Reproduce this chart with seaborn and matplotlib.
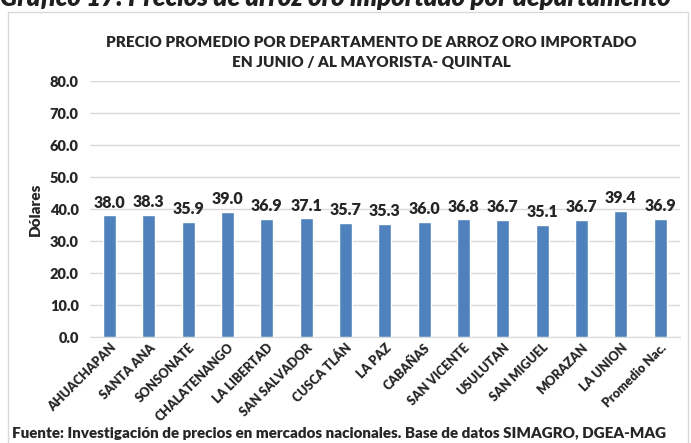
import matplotlib
matplotlib.use('Agg')
import matplotlib.pyplot as plt
import pandas as pd
import seaborn as sns
from matplotlib.patches import Rectangle

# Data
departamentos = ['AHUACHAPAN', 'SANTA ANA', 'SONSONATE', 'CHALATENANGO', 'LA LIBERTAD',
                 'SAN SALVADOR', 'CUSCA TLÁN', 'LA PAZ', 'CABAÑAS', 'SAN VICENTE',
                 'USULUTAN', 'SAN MIGUEL', 'MORAZAN', 'LA UNION', 'Promedio Nac.']
precios = [38.0, 38.3, 35.9, 39.0, 36.9, 37.1, 35.7, 35.3, 36.0, 36.8,
           36.7, 35.1, 36.7, 39.4, 36.9]
y_ticks = [0, 10, 20, 30, 40, 50, 60, 70, 80]

df = pd.DataFrame({'departamento': departamentos, 'precio': precios})

sns.set_style('white')
plt.rcParams['font.family'] = ['Lato', 'DejaVu Sans']

fig = plt.figure(figsize=(6.91, 4.43), dpi=100)
ax = fig.add_axes([0.130, 0.239, 0.854, 0.578])

sns.barplot(data=df, x='departamento', y='precio', color='#4F81BD',
            width=0.33, saturation=1, ax=ax, zorder=3)

ax.set_ylim(0, 80)
ax.set_yticks(y_ticks)
ax.set_yticklabels([f'{v:.1f}' for v in y_ticks], fontsize=10.5, fontweight='heavy')
ax.yaxis.grid(True, color='#D9D9D9', linewidth=1, zorder=0)
ax.set_axisbelow(True)
for s in ['top', 'right', 'left']:
    ax.spines[s].set_visible(False)
ax.spines['bottom'].set_color('#D9D9D9')
ax.tick_params(axis='both', length=0, pad=8)
ax.tick_params(axis='x', pad=3)
ax.set_xticks(range(len(departamentos)))
ax.set_xticklabels(departamentos, rotation=45, ha='right', rotation_mode='anchor',
                   fontsize=9, fontweight='heavy')
ax.set_xlabel('')
ax.set_ylabel('Dólares', fontsize=11, fontweight='heavy', labelpad=6)

for i, v in enumerate(precios):
    ax.text(i, v + 1.5, f'{v:.1f}', ha='center', va='bottom',
            fontsize=11.5, fontweight='heavy')

fig.text(0.538, 0.905, 'PRECIO PROMEDIO POR DEPARTAMENTO DE ARROZ ORO IMPORTADO',
         ha='center', va='center', fontsize=11, fontweight='heavy')
fig.text(0.538, 0.86, 'EN JUNIO / AL MAYORISTA- QUINTAL',
         ha='center', va='center', fontsize=11, fontweight='heavy')
fig.text(0.017, 0.022, 'Fuente: Investigación de precios en mercados nacionales. Base de datos SIMAGRO, DGEA-MAG',
         ha='left', va='center', fontsize=10.9, fontweight='heavy')
fig.text(0.0, 1 - 6 / 443, 'Gráfico 17: Precios de arroz oro importado por departamento',
         ha='left', va='baseline', fontsize=18.5, fontweight='heavy', style='italic',
         color='#1F1F1F')

fig.patches.append(Rectangle((8 / 691, -0.01), 680 / 691, 1 - 12 / 443 + 0.01,
                             transform=fig.transFigure, fill=False,
                             edgecolor='#D9D9D9', linewidth=1))

fig.savefig('out.png', dpi=100)
